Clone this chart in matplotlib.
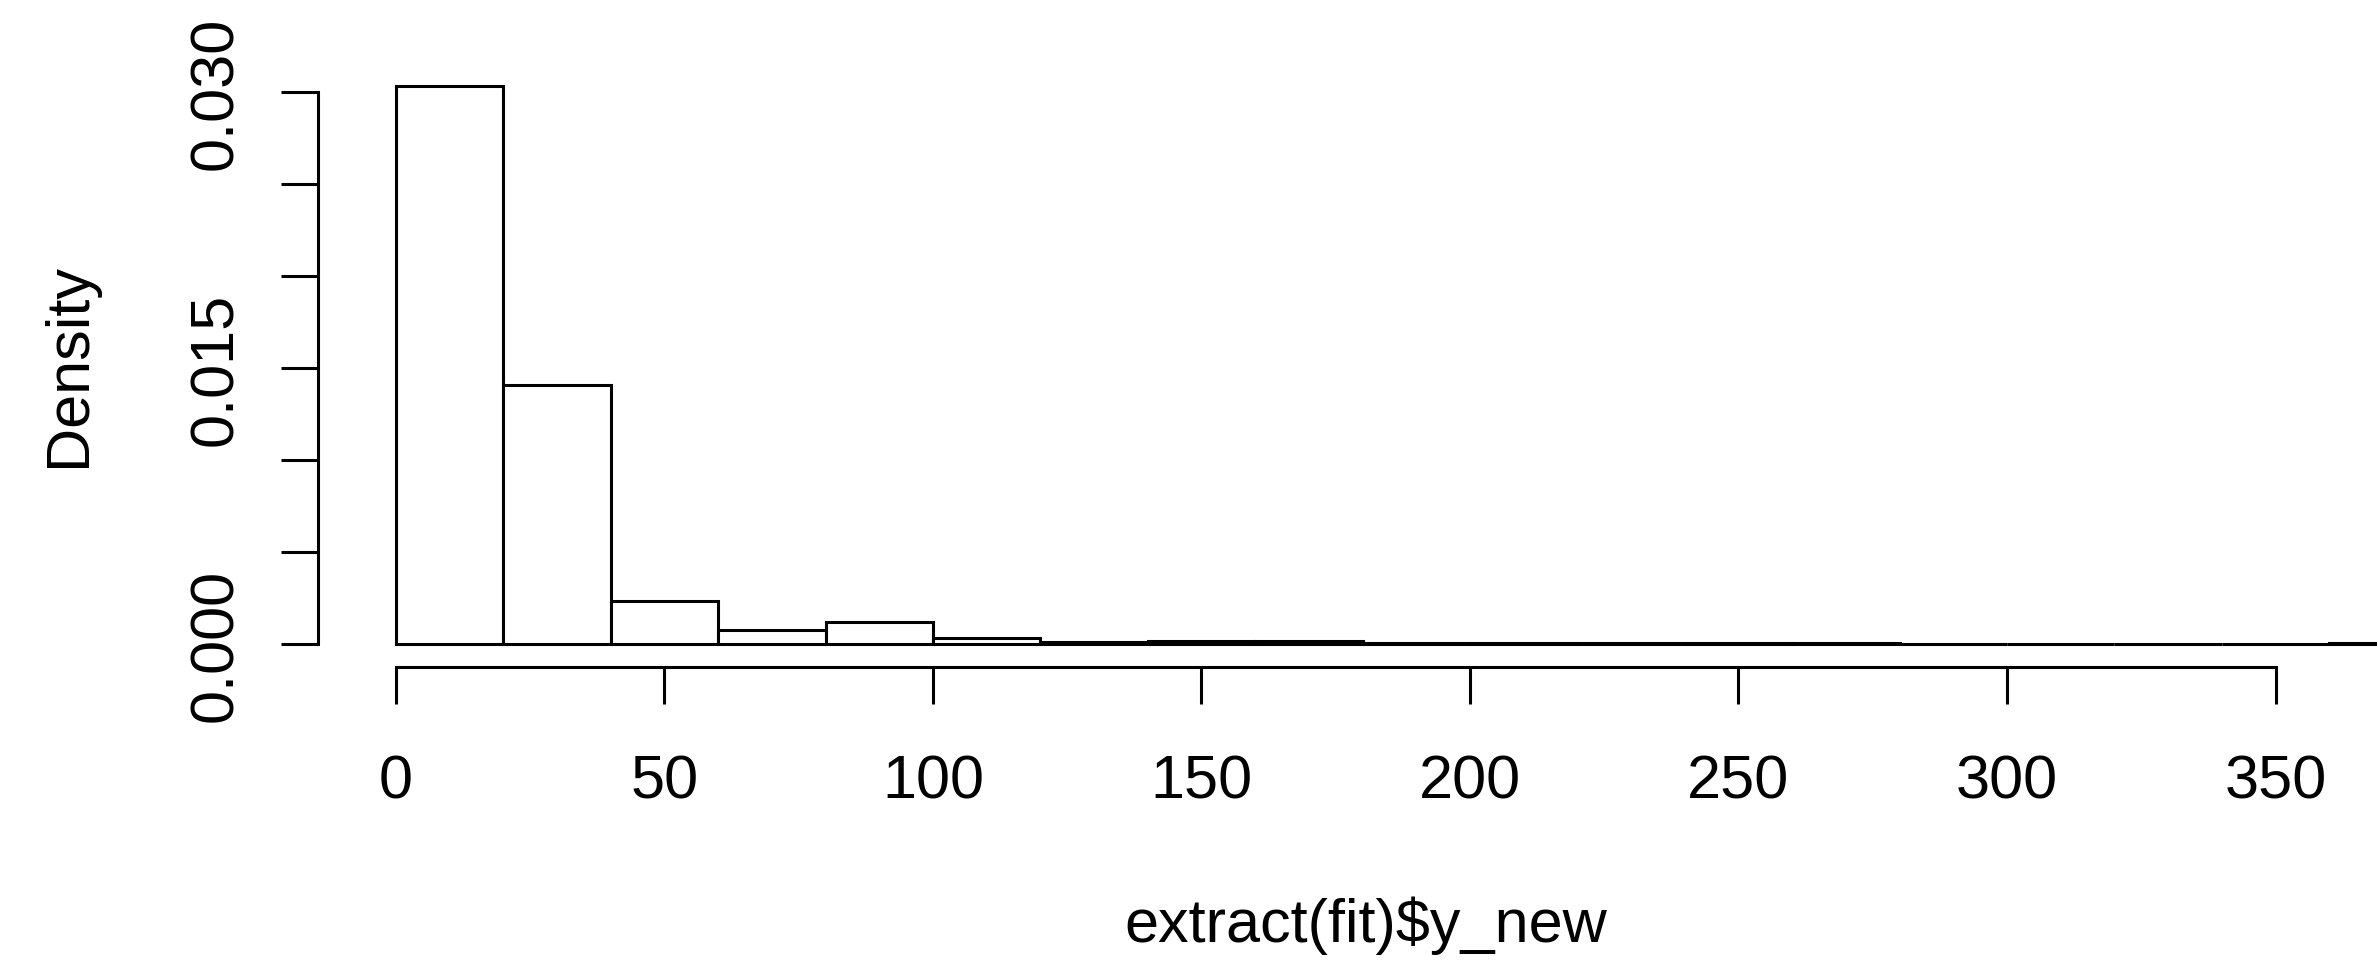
import matplotlib
matplotlib.use("Agg")
import matplotlib.pyplot as plt

plt.rcParams['font.family'] = ['Liberation Sans', 'DejaVu Sans']

# histogram bins (left edges, width 20) and densities
bin_left = [0, 20, 40, 60, 80, 100, 120, 140, 160, 180, 200, 220, 240,
            260, 280, 300, 320, 340, 360]
bin_width = 20
density = [0.03033, 0.01408, 0.00235, 0.00078, 0.00118, 0.00033, 0.00011,
           0.00015, 0.00015, 0.00007, 0.00004, 0.00007, 0.00007, 0.00004,
           0.00002, 0.00002, 0.00002, 0.00002, 0.00003]

x_ticks = [0, 50, 100, 150, 200, 250, 300, 350]
y_ticks = [0.000, 0.005, 0.010, 0.015, 0.020, 0.025, 0.030]
y_tick_labels = ['0.000', '', '', '0.015', '', '', '0.030']

fig = plt.figure(figsize=(23.77, 9.62), dpi=100)
ax = fig.add_axes([0.1304, 0.3028, 0.8696, 0.6385])

ax.bar(bin_left, density, width=bin_width, align='edge',
       facecolor='white', edgecolor='black', linewidth=2.2)

ax.set_xlim(-16, 368.9)
ax.set_ylim(-0.0014, 0.032)

# R style detached axes
for s in ['top', 'right']:
    ax.spines[s].set_visible(False)
ax.spines['left'].set_position(('data', -14.5))
ax.spines['left'].set_bounds(0, 0.030)
ax.spines['bottom'].set_position(('data', -0.00125))
ax.spines['bottom'].set_bounds(0, 350)
for s in ['left', 'bottom']:
    ax.spines[s].set_linewidth(2.2)

ax.set_xticks(x_ticks)
ax.set_xticklabels([str(t) for t in x_ticks])
ax.set_yticks(y_ticks)
ax.set_yticklabels(y_tick_labels, rotation=90, va='center')
ax.tick_params(axis='both', direction='out', length=26.6, width=2.2,
               labelsize=44)
ax.tick_params(axis='x', pad=36)
ax.tick_params(axis='y', pad=26)

ax.set_xlabel('extract(fit)$y_new', fontsize=44)
ax.xaxis.label.set_va('baseline')
ax.xaxis.set_label_coords(0.511, -0.4417)
ax.set_ylabel('Density', fontsize=44)
ax.yaxis.label.set_va('baseline')
ax.yaxis.set_label_coords(-0.1089, 0.4977)

fig.savefig('out.png', dpi=100)
